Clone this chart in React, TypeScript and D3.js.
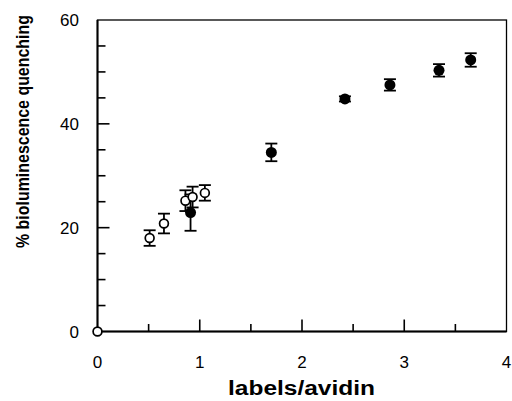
import * as d3 from 'd3';
import React, { useRef, useEffect } from 'react';

// open circles
const openX = [0, 0.51, 0.65, 0.86, 0.93, 1.05];
const openY = [0, 18.0, 20.8, 25.2, 25.9, 26.7];
const openErr = [0, 1.5, 1.9, 2.0, 2.0, 1.5];

// filled circles
const filledX = [0.91, 1.7, 2.42, 2.86, 3.34, 3.65];
const filledY = [22.9, 34.5, 44.8, 47.5, 50.3, 52.3];
const filledErr = [3.5, 1.7, 0.5, 1.1, 1.2, 1.3];

const xTicks = [0, 1, 2, 3, 4];
const xMinor = [0.5, 1.5, 2.5, 3.5];
const yTicks = [0, 20, 40, 60];
const yMinor = [5, 10, 15, 25, 30, 35, 45, 50, 55];

function App() {
  const ref = useRef<SVGSVGElement>(null);

  useEffect(() => {
    const width = 512;
    const height = 401;
    const margin = { top: 20, right: 5.5, bottom: 69.5, left: 97.5 };

    const svg = d3.select(ref.current);
    svg.selectAll('*').remove();

    const x = d3.scaleLinear().domain([0, 4]).range([margin.left, width - margin.right]);
    const y = d3.scaleLinear().domain([0, 60]).range([height - margin.bottom, margin.top]);
    const font = "'Liberation Sans', Arial, Helvetica, sans-serif";

    // frame
    svg
      .append('rect')
      .attr('x', x(0))
      .attr('y', y(60))
      .attr('width', x(4) - x(0))
      .attr('height', y(0) - y(60))
      .attr('fill', 'none')
      .attr('stroke', '#000')
      .attr('stroke-width', 1.3);

    svg
      .append('path')
      .attr('d', `M${x(0)},${y(60)}V${y(0)}H${x(4)}`)
      .attr('fill', 'none')
      .attr('stroke', '#000')
      .attr('stroke-width', 2);

    // ticks pointing inward
    const ticks = svg.append('g').attr('stroke', '#000').attr('stroke-width', 1.6);
    xTicks.slice(1, -1).forEach((t) => {
      ticks.append('line').attr('x1', x(t)).attr('x2', x(t)).attr('y1', y(0)).attr('y2', y(0) - 12);
    });
    xMinor.forEach((t) => {
      ticks.append('line').attr('x1', x(t)).attr('x2', x(t)).attr('y1', y(0)).attr('y2', y(0) - 7.5);
    });
    yTicks.slice(1, -1).forEach((t) => {
      ticks.append('line').attr('x1', x(0)).attr('x2', x(0) + 12).attr('y1', y(t)).attr('y2', y(t));
    });
    yMinor.forEach((t) => {
      ticks.append('line').attr('x1', x(0)).attr('x2', x(0) + 8).attr('y1', y(t)).attr('y2', y(t));
    });

    // tick labels
    svg
      .selectAll('.xl')
      .data(xTicks)
      .enter()
      .append('text')
      .attr('x', (d) => x(d))
      .attr('y', 368)
      .attr('text-anchor', 'middle')
      .attr('font-family', font)
      .attr('font-size', 17)
      .text((d) => d);

    svg
      .selectAll('.yl')
      .data(yTicks)
      .enter()
      .append('text')
      .attr('x', 79)
      .attr('y', (d) => y(d) + 6)
      .attr('text-anchor', 'end')
      .attr('font-family', font)
      .attr('font-size', 17)
      .text((d) => d);

    // axis titles
    svg
      .append('text')
      .attr('x', 301.5)
      .attr('y', 395)
      .attr('text-anchor', 'middle')
      .attr('font-family', font)
      .attr('font-weight', 'bold')
      .attr('font-size', 20)
      .attr('textLength', 147)
      .attr('lengthAdjust', 'spacingAndGlyphs')
      .text('labels/avidin');

    svg
      .append('text')
      .attr('transform', 'translate(29,131.5) rotate(-90)')
      .attr('text-anchor', 'middle')
      .attr('font-family', font)
      .attr('font-weight', 'bold')
      .attr('font-size', 19)
      .attr('textLength', 233)
      .attr('lengthAdjust', 'spacingAndGlyphs')
      .text('% bioluminescence quenching');

    const drawErr = (xs: number[], ys: number[], es: number[]) => {
      const g = svg.append('g').attr('stroke', '#000').attr('stroke-width', 1.8);
      xs.forEach((xv, i) => {
        if (!es[i]) return;
        const cx = x(xv);
        const y1 = y(ys[i] - es[i]);
        const y2 = y(ys[i] + es[i]);
        g.append('line').attr('x1', cx).attr('x2', cx).attr('y1', y1).attr('y2', y2);
        g.append('line').attr('x1', cx - 6).attr('x2', cx + 6).attr('y1', y1).attr('y2', y1);
        g.append('line').attr('x1', cx - 6).attr('x2', cx + 6).attr('y1', y2).attr('y2', y2);
      });
    };

    // filled series
    drawErr(filledX, filledY, filledErr);
    svg
      .append('g')
      .selectAll('circle')
      .data(filledX)
      .enter()
      .append('circle')
      .attr('cx', (d) => x(d))
      .attr('cy', (d, i) => y(filledY[i]))
      .attr('r', 5.5)
      .attr('fill', '#000');

    // open series
    drawErr(openX, openY, openErr);
    svg
      .append('g')
      .selectAll('circle')
      .data(openX)
      .enter()
      .append('circle')
      .attr('cx', (d) => x(d))
      .attr('cy', (d, i) => y(openY[i]))
      .attr('r', 4.4)
      .attr('fill', '#fff')
      .attr('stroke', '#000')
      .attr('stroke-width', 1.7);
  }, []);

  return (
    <svg
      ref={ref}
      width={512}
      height={401}
      style={{ position: 'absolute', left: 0, top: 0, background: '#fff' }}
    ></svg>
  );
}

export default App;
